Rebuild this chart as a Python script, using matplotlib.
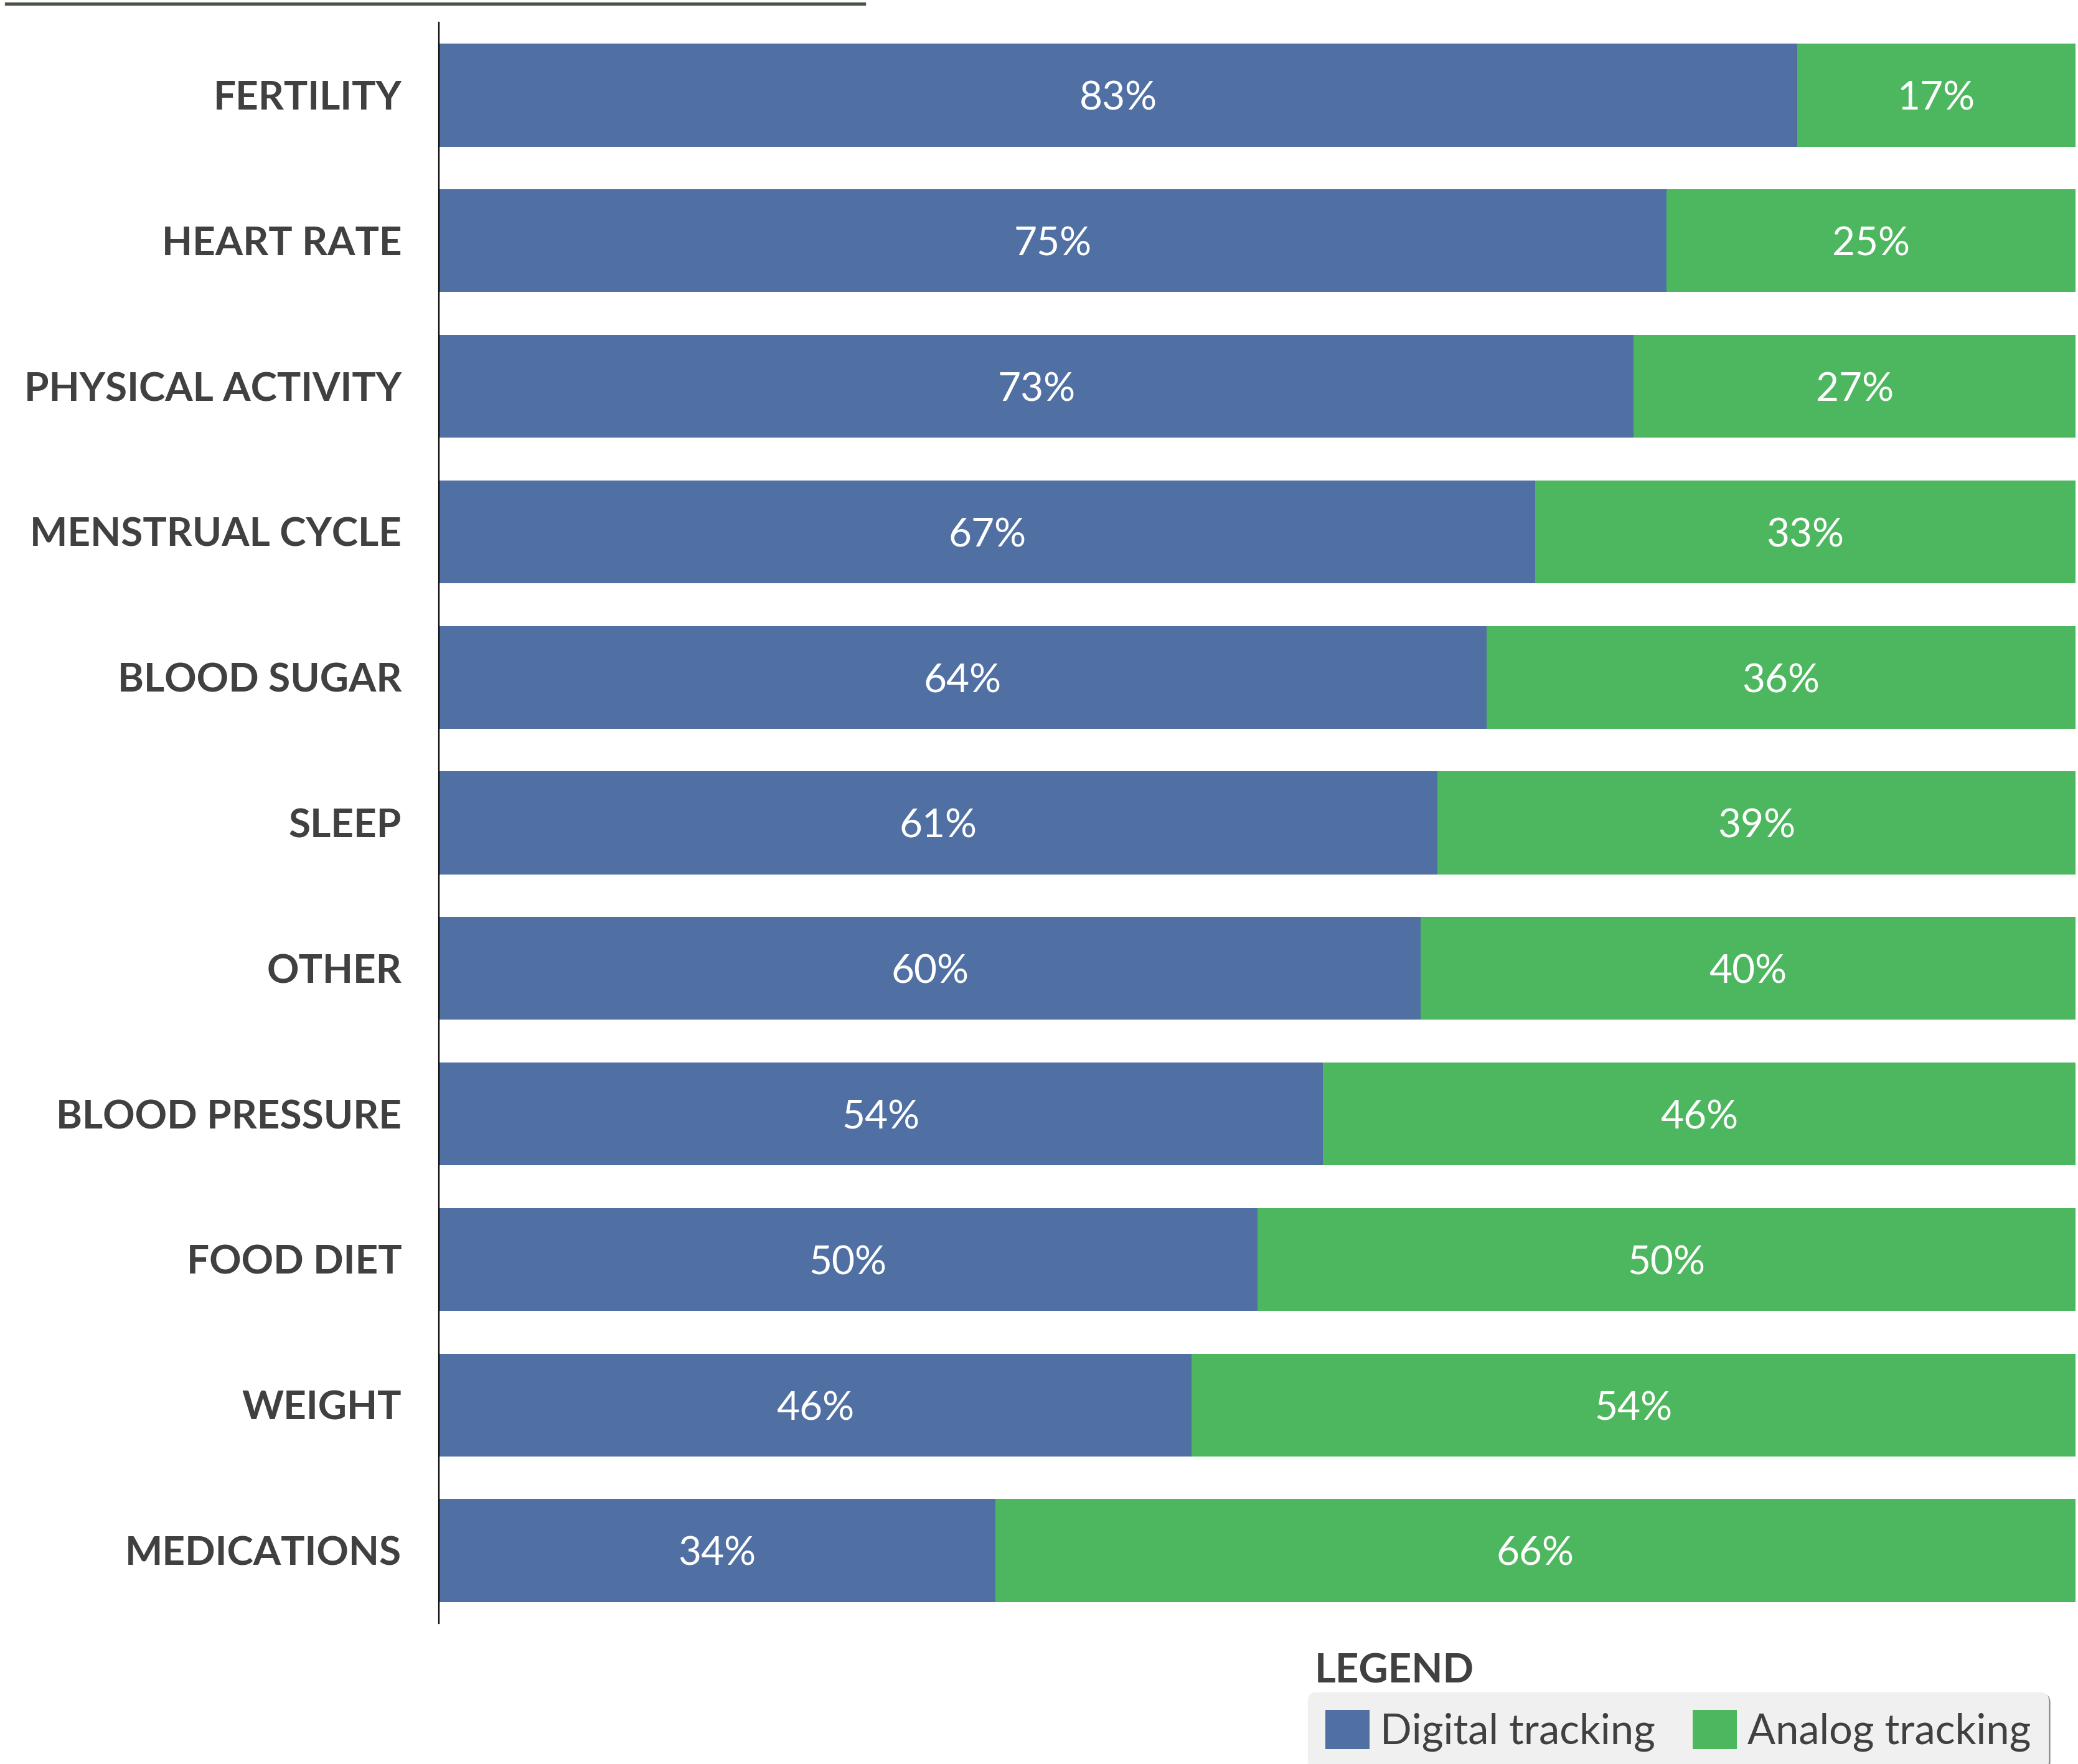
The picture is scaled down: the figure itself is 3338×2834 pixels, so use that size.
import matplotlib.pyplot as plt
from matplotlib.patches import Patch
from matplotlib.lines import Line2D

categories = ['FERTILITY', 'HEART RATE', 'PHYSICAL ACTIVITY', 'MENSTRUAL CYCLE', 'BLOOD SUGAR',
              'SLEEP', 'OTHER', 'BLOOD PRESSURE', 'FOOD DIET', 'WEIGHT', 'MEDICATIONS']
digital = [83, 75, 73, 67, 64, 61, 60, 54, 50, 46, 34]
analog = [17, 25, 27, 33, 36, 39, 40, 46, 50, 54, 66]
series_names = ['Digital tracking', 'Analog tracking']

BLUE = '#5070a4'
GREEN = '#4cb75e'
TXT = '#404040'

plt.rcParams['font.family'] = ['Lato', 'DejaVu Sans']

fig = plt.figure(figsize=(33.38, 28.34), dpi=100)
ax = fig.add_axes([705/3338, 1-2608/2834, 2629/3338, 2572/2834])

ypos = list(range(len(categories)))
ax.barh(ypos, digital, height=0.707, color=BLUE, linewidth=0)
ax.barh(ypos, analog, left=digital, height=0.707, color=GREEN, linewidth=0)

for y, d, a in zip(ypos, digital, analog):
    ax.text(d/2, y + 0.025, '%d%%' % d, ha='center', va='center', color='white', fontsize=46)
    ax.text(d + a/2, y + 0.025, '%d%%' % a, ha='center', va='center', color='white', fontsize=46)

ax.set_xlim(0, 100)
ax.set_ylim(len(categories)-0.5, -0.5)
ax.set_yticks(ypos)
ax.set_yticklabels(categories, fontsize=46, fontweight='bold', color=TXT)
ax.tick_params(axis='y', length=0, pad=43)
ax.set_xticks([])
for s in ['top', 'right', 'bottom']:
    ax.spines[s].set_visible(False)
ax.spines['left'].set_linewidth(1.6)
ax.spines['left'].set_color('black')

# top rule
fig.add_artist(Line2D([10/3338, 1388/3338], [1-6/2834, 1-6/2834], color='#4a5446', linewidth=3.8))

# legend
fig.text(2112/3338, 1-2704/2834, 'LEGEND', fontsize=47, fontweight='bold', color=TXT, ha='left', va='baseline')
handles = [Patch(facecolor=BLUE), Patch(facecolor=GREEN)]
leg = fig.legend(handles, series_names, ncol=2, loc='upper left', bbox_to_anchor=(2101/3338, 1-2719/2834),
                 borderaxespad=0, fontsize=48, handlelength=1.07, handleheight=1.07, handletextpad=0.25,
                 columnspacing=0.9, borderpad=0.42, frameon=True, fancybox=True, shadow=True, labelcolor=TXT)
leg.get_frame().set_facecolor('#f0f0f0')
leg.get_frame().set_edgecolor('#f0f0f0')

fig.savefig('out.png', dpi=100)
